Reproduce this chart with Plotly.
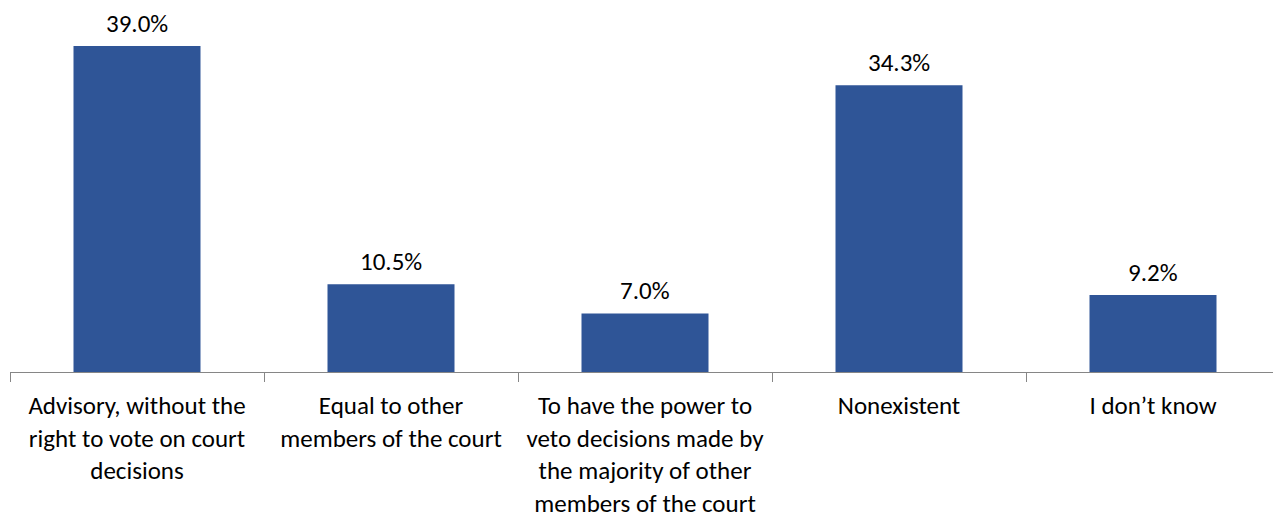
import plotly.graph_objects as go

categories = [
    "Advisory, without the<br>right to vote on court<br>decisions",
    "Equal to other<br>members of the court",
    "To have the power to<br>veto decisions made by<br>the majority of other<br>members of the court",
    "Nonexistent",
    "I don’t know",
]
values = [39.0, 10.5, 7.0, 34.3, 9.2]
labels = [f"{v:.1f}%" for v in values]

FONT = "Carlito, Lato, sans-serif"
FS = 25
TFS = 25

fig = go.Figure()
fig.add_trace(go.Bar(
    x=categories,
    y=values,
    width=0.5,
    marker=dict(color="#2F5597", line=dict(width=0)),
    hoverinfo="skip",
))

for c, v, t in zip(categories, values, labels):
    fig.add_annotation(x=c, y=v, text=t, showarrow=False, xref="x", yref="y",
                       yanchor="bottom", yshift=6, borderpad=0,
                       font=dict(family=FONT, size=FS, color="#000000"))

fig.update_layout(
    width=1273, height=510,
    margin=dict(l=2, r=1, t=0, b=146, autoexpand=False),
    plot_bgcolor="white", paper_bgcolor="white",
    showlegend=False,
    font=dict(family=FONT, size=FS, color="#000000"),
)
fig.update_xaxes(
    type="category",
    tickson="boundaries",
    ticks="outside", ticklen=9, tickcolor="#868686", tickwidth=1,
    showline=True, linecolor="#868686", linewidth=1,
    showgrid=False, zeroline=False,
    tickangle=0,
    tickfont=dict(family=FONT, size=TFS, color="#000000"),
    ticklabelstandoff=11,
    automargin=False,
)
fig.update_yaxes(range=[0, 43.55], visible=False, showgrid=False, zeroline=False, automargin=False)

fig.write_html("out.html")
